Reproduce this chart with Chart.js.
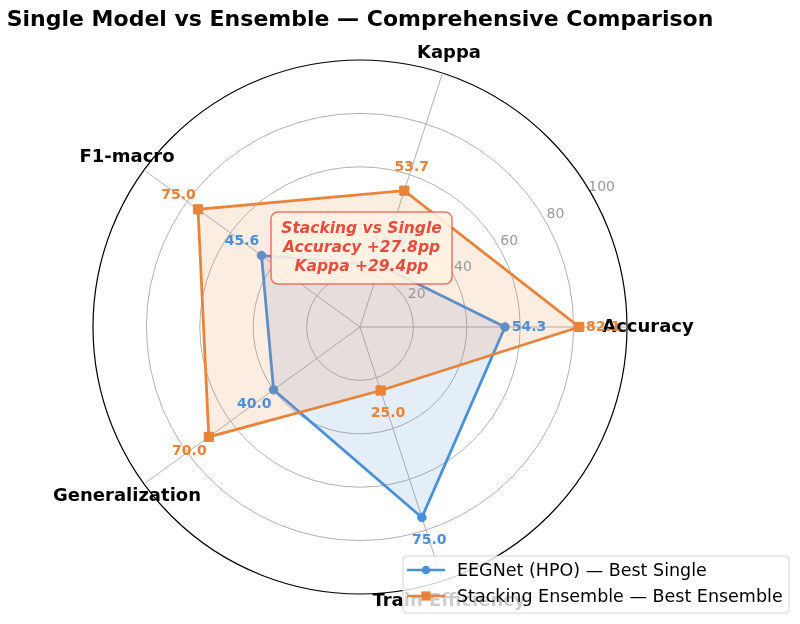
<!DOCTYPE html>
<html>
<head>
<meta charset="utf-8">
<script src="https://cdn.jsdelivr.net/npm/chart.js@4.4.1/dist/chart.umd.min.js"></script>
<style>
html,body{margin:0;padding:0;background:#fff;}
canvas{display:block;}
</style>
</head>
<body>
<canvas id="c" width="800" height="624"></canvas>
<script>
const titleText = 'Single Model vs Ensemble \u2014 Comprehensive Comparison';
const categories = ['Accuracy', 'Kappa', 'F1-macro', 'Generalization', 'Train Efficiency'];
const singleValues = [54.3, 24.3, 45.6, 40.0, 75.0];
const ensembleValues = [82.1, 53.7, 75.0, 70.0, 25.0];
const seriesNames = ['EEGNet (HPO) \u2014 Best Single', 'Stacking Ensemble \u2014 Best Ensemble'];
const radialTicks = [20, 40, 60, 80, 100];
const annotationLines = ['Stacking vs Single', 'Accuracy +27.8pp', 'Kappa +29.4pp'];

const BLUE = '#4A90D9';
const ORANGE = '#E8833A';
const FONT = 'DejaVu Sans';

// Chart.js draws clockwise; the reference goes counter-clockwise from east.
const cwOrder = [0, 4, 3, 2, 1];
const labelsCW = cwOrder.map(i => categories[i]);
const singleCW = cwOrder.map(i => singleValues[i]);
const ensembleCW = cwOrder.map(i => ensembleValues[i]);

function hexA(hex, a) {
  const n = parseInt(hex.slice(1), 16);
  return `rgba(${(n >> 16) & 255},${(n >> 8) & 255},${n & 255},${a})`;
}

function roundRect(ctx, x, y, w, h, r) {
  ctx.beginPath();
  ctx.moveTo(x + r, y);
  ctx.lineTo(x + w - r, y);
  ctx.arcTo(x + w, y, x + w, y + r, r);
  ctx.lineTo(x + w, y + h - r);
  ctx.arcTo(x + w, y + h, x + w - r, y + h, r);
  ctx.lineTo(x + r, y + h);
  ctx.arcTo(x, y + h, x, y + h - r, r);
  ctx.lineTo(x, y + r);
  ctx.arcTo(x, y, x + r, y, r);
  ctx.closePath();
}

const overlay = {
  id: 'overlay',
  afterDraw(chart) {
    const ctx = chart.ctx;
    const r = chart.scales.r;
    const xc = r.xCenter, yc = r.yCenter;
    ctx.save();

    // radial tick labels at 30 degrees
    ctx.font = `14px "${FONT}"`;
    ctx.fillStyle = '#999999';
    ctx.textAlign = 'center';
    ctx.textBaseline = 'middle';
    const ang = 30 * Math.PI / 180;
    radialTicks.forEach(v => {
      const d = r.getDistanceFromCenterForValue(v) + 12;
      ctx.fillText(String(v), xc + Math.cos(ang) * d, yc - Math.sin(ang) * d);
    });

    // category labels
    ctx.font = `bold 18px "${FONT}"`;
    ctx.fillStyle = '#000';
    labelsCW.forEach((lab, i) => {
      const p = r.getPointPosition(i, r.drawingArea + 21);
      ctx.fillText(lab, p.x, p.y);
    });

    // value labels
    ctx.font = `bold 14px "${FONT}"`;
    const drawVals = (vals, color) => {
      ctx.fillStyle = color;
      vals.forEach((v, i) => {
        const p = r.getPointPosition(i, r.getDistanceFromCenterForValue(v) + 24);
        ctx.fillText(v.toFixed(1), p.x, p.y);
      });
    };
    drawVals(singleCW, BLUE);
    drawVals(ensembleCW, ORANGE);

    // annotation box
    const bx = 271, by = 212, bw = 181, bh = 72;
    roundRect(ctx, bx, by, bw, bh, 7);
    ctx.fillStyle = 'rgba(255,243,226,0.88)';
    ctx.fill();
    ctx.lineWidth = 1.5;
    ctx.strokeStyle = 'rgba(231,76,60,0.75)';
    ctx.stroke();
    ctx.font = `italic bold 15.5px "${FONT}"`;
    ctx.fillStyle = '#E74C3C';
    annotationLines.forEach((t, k) => {
      ctx.fillText(t, bx + bw / 2, 229 + k * 18.8);
    });

    // legend
    const lx = 403, ly = 556, lw = 386, lh = 57;
    roundRect(ctx, lx, ly, lw, lh, 4);
    ctx.fillStyle = 'rgba(255,255,255,0.8)';
    ctx.fill();
    ctx.lineWidth = 1;
    ctx.strokeStyle = 'rgba(204,204,204,0.8)';
    ctx.stroke();
    const rows = [570, 596];
    const colors = [BLUE, ORANGE];
    ctx.font = `17.5px "${FONT}"`;
    ctx.textAlign = 'left';
    rows.forEach((y, k) => {
      ctx.strokeStyle = colors[k];
      ctx.fillStyle = colors[k];
      ctx.lineWidth = 2.5;
      ctx.beginPath();
      ctx.moveTo(407, y);
      ctx.lineTo(445, y);
      ctx.stroke();
      if (k === 0) {
        ctx.beginPath();
        ctx.arc(426, y, 4.3, 0, Math.PI * 2);
        ctx.fill();
      } else {
        ctx.fillRect(426 - 4.6, y - 4.6, 9.2, 9.2);
      }
      ctx.fillStyle = '#000';
      ctx.fillText(seriesNames[k], 457, y + 1);
    });

    ctx.restore();
  }
};

new Chart(document.getElementById('c'), {
  type: 'radar',
  data: {
    labels: labelsCW,
    datasets: [
      {
        label: seriesNames[0],
        data: singleCW,
        borderColor: BLUE,
        backgroundColor: hexA(BLUE, 0.15),
        borderWidth: 2.8,
        pointStyle: 'circle',
        pointRadius: 4.3,
        pointBackgroundColor: BLUE,
        pointBorderColor: BLUE,
        pointBorderWidth: 1,
        fill: true,
        tension: 0,
        order: 1
      },
      {
        label: seriesNames[1],
        data: ensembleCW,
        borderColor: ORANGE,
        backgroundColor: hexA(ORANGE, 0.15),
        borderWidth: 2.8,
        pointStyle: 'rect',
        pointRadius: 6.5,
        pointBackgroundColor: ORANGE,
        pointBorderColor: ORANGE,
        pointBorderWidth: 1,
        fill: true,
        tension: 0,
        order: 0
      }
    ]
  },
  options: {
    responsive: false,
    animation: false,
    devicePixelRatio: 1,
    layout: { padding: { left: 0, right: 80, top: 0, bottom: 30 } },
    plugins: {
      legend: { display: false },
      tooltip: { enabled: false },
      title: {
        display: true,
        text: titleText,
        color: '#000',
        font: { family: FONT, size: 22, weight: 'bold', lineHeight: 1.2 },
        padding: { top: 7, bottom: 26.6 }
      }
    },
    scales: {
      r: {
        min: 0,
        max: 100,
        startAngle: 90,
        ticks: { stepSize: 20, display: false },
        grid: {
          circular: true,
          color: ctx => (ctx.tick && ctx.tick.value === 100) ? '#000000' : '#b0b0b0',
          lineWidth: ctx => (ctx.tick && ctx.tick.value === 100) ? 1.2 : 1
        },
        angleLines: { color: '#b0b0b0', lineWidth: 1 },
        pointLabels: { display: false }
      }
    }
  },
  plugins: [overlay]
});
</script>
</body>
</html>
